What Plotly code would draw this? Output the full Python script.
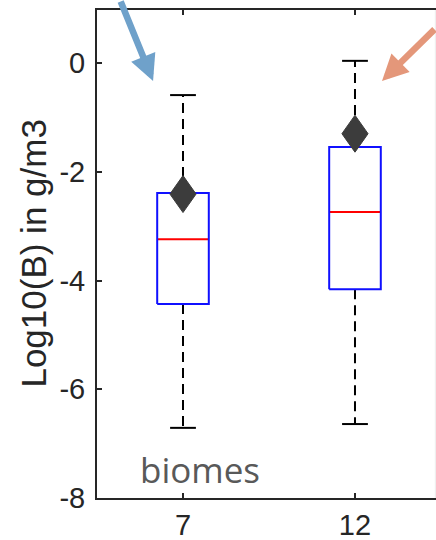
import plotly.graph_objects as go

# ---- data ----
categories = ["7", "12"]
positions = [1, 2]
q1 = [-4.43, -4.16]
median = [-3.24, -2.74]
q3 = [-2.39, -1.545]
lower_whisker = [-6.71, -6.64]
upper_whisker = [-0.59, 0.04]
mean = [-2.41, -1.30]
y_ticks = [-8, -6, -4, -2, 0]
y_tick_labels = ["-8", "-6", "-4", "-2", "0"]

# ---- style constants ----
BOX_HALF = 0.15
CAP_HALF = 0.075
DIA_HALF_W = 0.076
DIA_HALF_H = 0.34
AXIS_COLOR = "#262626"
FONT = "Liberation Sans, Arial, Helvetica, sans-serif"

fig = go.Figure()

# whiskers (dashed)
wx, wy = [], []
for p, a, lo, b, hi in zip(positions, q1, lower_whisker, q3, upper_whisker):
    wx += [p, p, None, p, p, None]
    wy += [a, lo, None, b, hi, None]
fig.add_trace(go.Scatter(x=wx, y=wy, mode="lines",
                         line=dict(color="black", width=2, dash="10px,6px"),
                         hoverinfo="skip"))

# caps
cx, cy = [], []
for p, lo, hi in zip(positions, lower_whisker, upper_whisker):
    cx += [p - CAP_HALF, p + CAP_HALF, None, p - CAP_HALF, p + CAP_HALF, None]
    cy += [lo, lo, None, hi, hi, None]
fig.add_trace(go.Scatter(x=cx, y=cy, mode="lines",
                         line=dict(color="black", width=2), hoverinfo="skip"))

# medians
mx, my = [], []
for p, m in zip(positions, median):
    mx += [p - BOX_HALF, p + BOX_HALF, None]
    my += [m, m, None]
fig.add_trace(go.Scatter(x=mx, y=my, mode="lines",
                         line=dict(color="#ff0000", width=2), hoverinfo="skip"))

# boxes
bx, by = [], []
for p, a, b in zip(positions, q1, q3):
    bx += [p - BOX_HALF, p + BOX_HALF, p + BOX_HALF, p - BOX_HALF, p - BOX_HALF, None]
    by += [a, a, b, b, a, None]
fig.add_trace(go.Scatter(x=bx, y=by, mode="lines",
                         line=dict(color="#1010ff", width=2), hoverinfo="skip"))

# mean diamonds
dx, dy = [], []
for p, m in zip(positions, mean):
    dx += [p, p + DIA_HALF_W, p, p - DIA_HALF_W, p, None]
    dy += [m + DIA_HALF_H, m, m - DIA_HALF_H, m, m + DIA_HALF_H, None]
fig.add_trace(go.Scatter(x=dx, y=dy, mode="lines", fill="toself",
                         fillcolor="#3c3c3c", line=dict(color="#3c3c3c", width=1),
                         hoverinfo="skip"))

fig.update_layout(
    width=436, height=540,
    margin=dict(l=97, r=0, t=10, b=42, autoexpand=False),
    plot_bgcolor="white", paper_bgcolor="white",
    showlegend=False,
)
fig.update_xaxes(
    range=[0.5, 2.471], tickvals=positions, ticktext=categories,
    ticks="inside", ticklen=5, tickwidth=1.5, tickcolor=AXIS_COLOR,
    showline=True, linecolor=AXIS_COLOR, linewidth=2, mirror="ticks",
    showgrid=False, zeroline=False, ticklabelstandoff=0, automargin=False,
    tickfont=dict(family=FONT, size=29, color=AXIS_COLOR),
)
fig.update_yaxes(
    range=[-8, 0.975], tickvals=y_ticks, ticktext=y_tick_labels,
    ticks="inside", ticklen=5, tickwidth=1.5, tickcolor=AXIS_COLOR,
    showline=True, linecolor=AXIS_COLOR, linewidth=2,
    showgrid=False, zeroline=False, ticklabelstandoff=4, automargin=False,
    tickfont=dict(family=FONT, size=29, color=AXIS_COLOR),
)

# y title
fig.add_annotation(text="Log10(B) in g/m3", textangle=-90,
                   xref="paper", yref="paper", x=-0.19, y=0.5,
                   xanchor="center", yanchor="middle", showarrow=False,
                   font=dict(family=FONT, size=35, color=AXIS_COLOR))

# "biomes" label
fig.add_annotation(text="biomes", xref="x", yref="y", x=1.096, y=-7.48,
                   xanchor="center", yanchor="middle", showarrow=False,
                   font=dict(family="Open Sans, Noto Sans, sans-serif", size=35,
                             color="#595959"))

# arrows
fig.add_annotation(text="", xref="x", yref="y", x=0.826, y=-0.33,
                   ax=-33, ay=-92, showarrow=True, arrowhead=2,
                   arrowwidth=6.5, arrowsize=0.8, arrowcolor="#6fa1ca")
fig.add_annotation(text="", xref="x", yref="y", x=2.157, y=-0.33,
                   ax=70, ay=-53, showarrow=True, arrowhead=2,
                   arrowwidth=6.5, arrowsize=0.8, arrowcolor="#e4977a")

# faint neighbouring-panel edge at the right border
fig.add_shape(type="line", xref="paper", yref="paper", x0=0.998, x1=0.998,
              y0=0, y1=1, line=dict(color="#ececec", width=1))

fig.write_html("out.html",
               config={"displayModeBar": False},
               post_script="document.body.style.margin='0';"
                           "document.body.style.overflow='hidden';")
